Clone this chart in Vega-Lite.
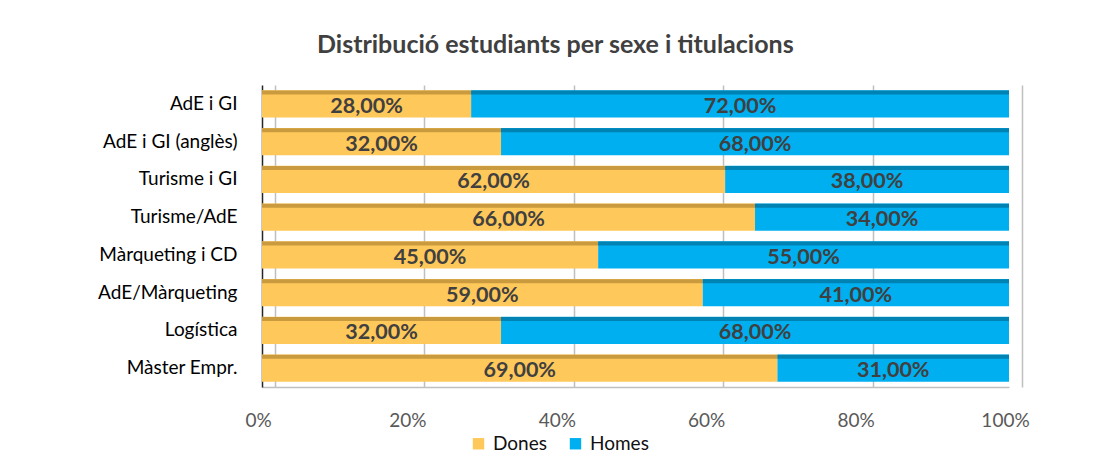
{
  "$schema": "https://vega.github.io/schema/vega-lite/v6.json",
  "autosize": "none",
  "width": 747,
  "height": 302,
  "padding": {"left": 262, "top": 85, "right": 85, "bottom": 81},
  "background": "white",
  "title": {
    "text": "Distribució estudiants per sexe i titulacions",
    "anchor": "start",
    "frame": "group",
    "dx": 55,
    "offset": 27,
    "font": "Lato",
    "fontSize": 25,
    "fontWeight": "bold",
    "color": "#404040"
  },
  "data": {
    "values": [
      {"titulacio": "AdE i GI", "sexe": "Dones", "pct": 0.28},
      {"titulacio": "AdE i GI", "sexe": "Homes", "pct": 0.72},
      {"titulacio": "AdE i GI (anglès)", "sexe": "Dones", "pct": 0.32},
      {"titulacio": "AdE i GI (anglès)", "sexe": "Homes", "pct": 0.68},
      {"titulacio": "Turisme i GI", "sexe": "Dones", "pct": 0.62},
      {"titulacio": "Turisme i GI", "sexe": "Homes", "pct": 0.38},
      {"titulacio": "Turisme/AdE", "sexe": "Dones", "pct": 0.66},
      {"titulacio": "Turisme/AdE", "sexe": "Homes", "pct": 0.34},
      {"titulacio": "Màrqueting i CD", "sexe": "Dones", "pct": 0.45},
      {"titulacio": "Màrqueting i CD", "sexe": "Homes", "pct": 0.55},
      {"titulacio": "AdE/Màrqueting", "sexe": "Dones", "pct": 0.59},
      {"titulacio": "AdE/Màrqueting", "sexe": "Homes", "pct": 0.41},
      {"titulacio": "Logística", "sexe": "Dones", "pct": 0.32},
      {"titulacio": "Logística", "sexe": "Homes", "pct": 0.68},
      {"titulacio": "Màster Empr.", "sexe": "Dones", "pct": 0.69},
      {"titulacio": "Màster Empr.", "sexe": "Homes", "pct": 0.31}
    ]
  },
  "transform": [
    {"calculate": "datum.sexe === 'Dones' ? 0 : 1", "as": "ordre"},
    {"stack": "pct", "groupby": ["titulacio"], "sort": [{"field": "ordre"}], "as": ["x0", "x1"]},
    {"calculate": "(datum.x0 + datum.x1) / 2", "as": "xmid"}
  ],
  "encoding": {
    "y": {
      "field": "titulacio",
      "type": "nominal",
      "sort": null,
      "title": null,
      "scale": {"paddingInner": 0.284, "paddingOuter": 0.142},
      "axis": {
        "domainColor": "#262626",
        "domainWidth": 1.5,
        "ticks": false,
        "tickSize": 0,
        "labelPadding": 25,
        "labelFont": "Lato",
        "labelFontSize": 19,
        "labelColor": "#000000",
        "grid": false
      }
    }
  },
  "layer": [
    {
      "mark": {"type": "bar"},
      "encoding": {
        "x": {
          "field": "x0",
          "type": "quantitative",
          "scale": {"domain": [0, 1], "nice": false},
          "title": null,
          "axis": {
            "format": ".0%",
            "values": [0, 0.2, 0.4, 0.6, 0.8, 1],
            "grid": true,
            "gridColor": "#BFBFBF",
            "gridWidth": 1.5,
            "tickOffset": 13,
            "ticks": false,
            "tickSize": 0,
            "domainColor": "#BFBFBF",
            "domainWidth": 1.5,
            "labelFlush": false,
            "labelOffset": -17,
            "labelPadding": 24,
            "labelFont": "Lato",
            "labelFontSize": 19,
            "labelColor": "#595959"
          }
        },
        "x2": {"field": "x1"},
        "color": {
          "field": "sexe",
          "type": "nominal",
          "scale": {"domain": ["Dones", "Homes"], "range": ["#FFC85A", "#00AFEF"]},
          "legend": {
            "title": null,
            "orient": "none",
            "direction": "horizontal",
            "legendX": 207,
            "legendY": 349,
            "symbolType": "square",
            "symbolSize": 130,
            "symbolStrokeWidth": 0,
            "labelFont": "Lato",
            "labelFontSize": 19,
            "labelColor": "#111111",
            "columnPadding": 19,
            "labelOffset": 5
          }
        }
      }
    },
    {
      "mark": {"type": "bar", "height": 4, "yOffset": -11.5},
      "encoding": {
        "x": {"field": "x0", "type": "quantitative"},
        "x2": {"field": "x1"},
        "color": {
          "condition": {"test": "datum.sexe === 'Dones'", "value": "#C99A3E"},
          "value": "#0082B3"
        }
      }
    },
    {
      "mark": {"type": "text", "baseline": "middle", "dy": 3, "font": "Lato", "fontSize": 21.5, "fontWeight": "bold", "color": "#404040"},
      "encoding": {
        "x": {"field": "xmid", "type": "quantitative"},
        "text": {"field": "pct", "type": "quantitative", "format": ".2%"}
      }
    }
  ],
  "config": {
    "locale": {
      "number": {"decimal": ",", "thousands": ".", "grouping": [3], "currency": ["", " €"]}
    },
    "view": {"stroke": null}
  }
}
